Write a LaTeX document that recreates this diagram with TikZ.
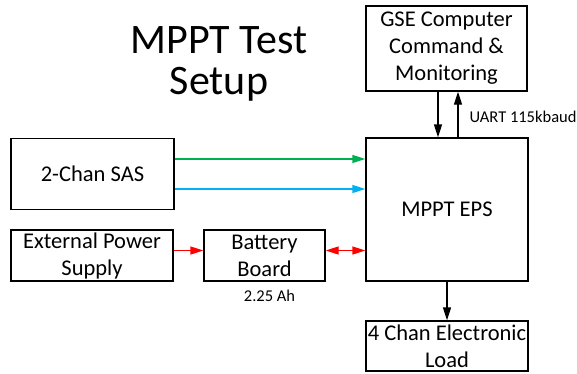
\documentclass[tikz,border=0pt]{standalone}
\usepackage{fontspec}
\setmainfont{Carlito}
\usepackage{xcolor}
\usepackage{tikz}
\usetikzlibrary{positioning,arrows.meta,calc}
\definecolor{SASGreen}{RGB}{0,176,80}
\definecolor{SASBlue}{RGB}{0,176,240}
\definecolor{PwrRed}{RGB}{255,0,0}

\begin{document}
\begin{tikzpicture}[
x=1pt,y=-1pt,
box/.style={rectangle,draw=black,line width=1.3pt,inner sep=0pt,align=center,font=\fontsize{22.5}{27}\selectfont},
note/.style={inner sep=0pt,font=\fontsize{16.5}{18}\selectfont},
arrow/.style={-{Triangle[length=13pt,width=8pt]},line width=1.3pt},
dblarrow/.style={{Triangle[length=13pt,width=8pt]}-{Triangle[length=13pt,width=8pt]},line width=1.3pt}
]
\useasboundingbox (0,0) rectangle (577,373);
\node[inner sep=0pt,align=center,font=\fontsize{42}{41}\selectfont] (title) at (219,64) {MPPT Test\\Setup};
\node[box,minimum width=163pt,minimum height=71pt] (sas) at (92.5,174) {2-Chan SAS};
\node[box,minimum width=162pt,minimum height=143pt] (eps) at (447,209.5) {MPPT EPS};
\node[box,minimum width=162pt,minimum height=51pt] (ext) at (92,255.5) {External Power\\Supply};
\node[box,minimum width=121pt,minimum height=51pt] (batt) at (264.5,255.5) {Battery\\Board};
\node[note,below=8.5pt of batt,xshift=5pt] (cap) {2.25 Ah};
\node[box,minimum width=161pt,minimum height=85pt] (gse) at (446.5,48.5) {GSE Computer\\Command \&\\Monitoring};
\node[box,minimum width=162pt,minimum height=50pt] (load) at (447,346) {4 Chan Electronic\\Load};
\draw[arrow,draw=SASGreen,fill=SASGreen] ([yshift=15pt]sas.east) -- ([yshift=15pt]sas.east -| eps.west);
\draw[arrow,draw=SASBlue,fill=SASBlue] ([yshift=-15pt]sas.east) -- ([yshift=-15pt]sas.east -| eps.west);
\draw[arrow,draw=PwrRed,fill=PwrRed] ([yshift=5pt]ext.east) -- ([yshift=5pt]batt.west);
\draw[dblarrow,draw=PwrRed,fill=PwrRed] ([yshift=5pt]batt.east) -- ([yshift=5pt]batt.east -| eps.west);
\draw[arrow] ([xshift=-8.5pt]gse.south) -- ([xshift=-8.5pt]gse.south |- eps.north);
\draw[arrow] ([xshift=11.5pt]gse.south |- eps.north) -- node[note,right=11pt,pos=0.45]{UART 115kbaud} ([xshift=11.5pt]gse.south);
\draw[arrow] (eps.south) -- (load.north);
\end{tikzpicture}
\end{document}
